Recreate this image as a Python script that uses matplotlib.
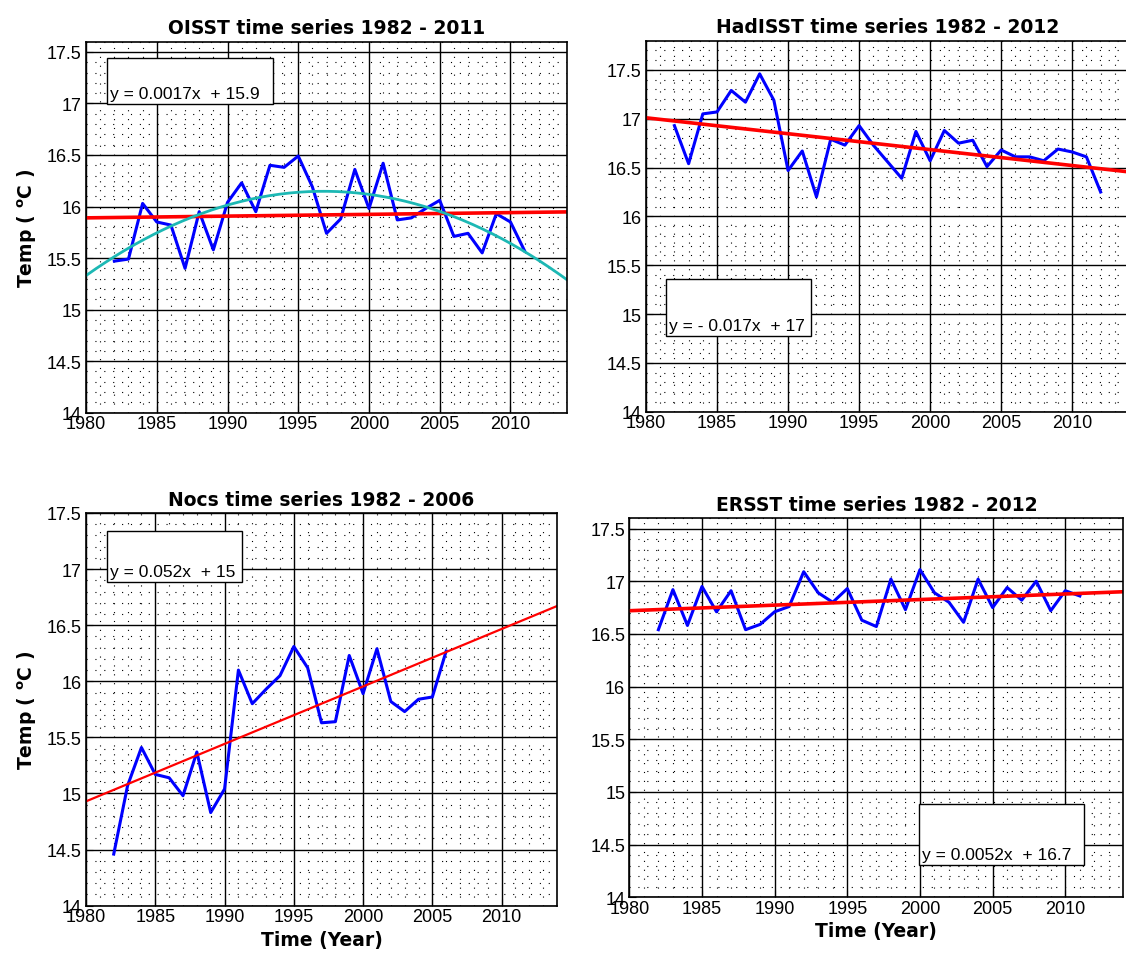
import numpy as np
import matplotlib
matplotlib.use("Agg")
import matplotlib.pyplot as plt
from matplotlib.patches import Rectangle
from matplotlib.ticker import MultipleLocator, FormatStrFormatter

plt.rcParams['font.family'] = ['Liberation Sans', 'DejaVu Sans']
plt.rcParams['mathtext.fontset'] = 'dejavusans'

# --- data ---
oisst_years = np.arange(1982, 2012)
oisst_temp = [15.47, 15.49, 16.03, 15.85, 15.82, 15.40, 15.95, 15.58, 16.04, 16.23,
              15.95, 16.40, 16.38, 16.49, 16.19, 15.74, 15.88, 16.36, 15.98, 16.42,
              15.87, 15.89, 15.98, 16.06, 15.71, 15.74, 15.55, 15.93, 15.85, 15.57]
oisst_lin = [0.0017, 15.89]            # slope, value at 1980
oisst_quad = [-0.0029, 0.0974, 15.33]  # in (year - 1980)

had_years = np.arange(1982, 2013)
had_temp = [16.93, 16.54, 17.05, 17.07, 17.29, 17.17, 17.46, 17.19, 16.47, 16.67,
            16.20, 16.79, 16.73, 16.93, 16.73, 16.56, 16.39, 16.87, 16.57, 16.88,
            16.75, 16.78, 16.51, 16.68, 16.61, 16.61, 16.57, 16.69, 16.66, 16.61,
            16.25]
had_lin = [-0.0163, 17.01]

nocs_years = np.arange(1982, 2007)
nocs_temp = [14.46, 15.07, 15.41, 15.17, 15.14, 14.98, 15.37, 14.83, 15.04, 16.10,
             15.80, 15.93, 16.05, 16.31, 16.12, 15.63, 15.64, 16.23, 15.89, 16.29,
             15.82, 15.73, 15.84, 15.86, 16.27]
nocs_lin = [0.0512, 14.93]

er_years = np.arange(1982, 2012)
er_temp = [16.54, 16.92, 16.58, 16.95, 16.71, 16.91, 16.54, 16.59, 16.71, 16.76,
           17.09, 16.89, 16.80, 16.93, 16.63, 16.57, 17.02, 16.73, 17.11, 16.89,
           16.80, 16.61, 17.02, 16.75, 16.94, 16.82, 17.00, 16.72, 16.91, 16.86]
er_lin = [0.0053, 16.72]

fig = plt.figure(figsize=(11.26, 9.62), dpi=100)

panels = [
    # title, years, temps, lin, quad, rect, ylim top, eq text, box (x0,y0,x1,y1), red lw, ylabel?, xlabel?
    ("OISST time series 1982 - 2011", oisst_years, oisst_temp, oisst_lin, oisst_quad,
     [0.0764, 0.5700, 0.4272, 0.3857], 17.6, "y = 0.0017x  + 15.9", (0.043, 0.832, 0.389, 0.955), 2.6, True, False),
    ("HadISST time series 1982 - 2012", had_years, had_temp, had_lin, None,
     [0.5737, 0.5710, 0.4290, 0.3857], 17.8, "y = - 0.017x  + 17", (0.041, 0.205, 0.341, 0.358), 2.6, False, False),
    ("Nocs time series 1982 - 2006", nocs_years, nocs_temp, nocs_lin, None,
     [0.0764, 0.0575, 0.4183, 0.4082], 17.5, "y = 0.052x  + 15", (0.045, 0.825, 0.332, 0.955), 1.6, True, True),
    ("ERSST time series 1982 - 2012", er_years, er_temp, er_lin, None,
     [0.5589, 0.0662, 0.4388, 0.3943], 17.6, "y = 0.0052x  + 16.7", (0.586, 0.085, 0.921, 0.246), 2.6, False, True),
]

xx = np.linspace(1980, 2014, 200)
for title, yrs, temp, lin, quad, rect, ytop, eq, box, rlw, ylab, xlab in panels:
    ax = fig.add_axes(rect)
    ax.set_xlim(1980, 2014)
    ax.set_ylim(14, ytop)
    ax.xaxis.set_major_locator(MultipleLocator(5))
    ax.xaxis.set_minor_locator(MultipleLocator(1))
    ax.yaxis.set_major_locator(MultipleLocator(0.5))
    ax.yaxis.set_minor_locator(MultipleLocator(0.1))
    ax.yaxis.set_major_formatter(FormatStrFormatter('%g'))
    ax.grid(which='major', color='k', linestyle='-', linewidth=1.0)
    ax.grid(which='minor', color='k', linestyle=(0, (1, 7)), linewidth=0.8)
    ax.set_axisbelow(True)
    ax.tick_params(which='major', direction='in', length=5, labelsize=13, pad=2, colors='k')
    ax.tick_params(axis='y', which='major', pad=3)
    ax.tick_params(which='minor', length=0)
    for s in ax.spines.values():
        s.set_linewidth(1.2)

    ax.plot(yrs, temp, color='#0000ff', linewidth=2.2)
    ax.plot(xx, lin[0] * (xx - 1980) + lin[1], color='#ff0000', linewidth=rlw)
    if quad is not None:
        t = xx - 1980
        ax.plot(xx, quad[0] * t ** 2 + quad[1] * t + quad[2], color='#1cb8b4', linewidth=2.0)

    x0, y0, x1, y1 = box
    ax.add_patch(Rectangle((x0, y0), x1 - x0, y1 - y0, transform=ax.transAxes,
                           facecolor='white', edgecolor='k', linewidth=1.0, zorder=5))
    ax.text(x0 + 0.006, y0 + 0.008, eq, transform=ax.transAxes, fontsize=12.5,
            ha='left', va='bottom', zorder=6)

    ax.set_title(title, fontsize=13.5, fontweight='bold', family='DejaVu Sans', pad=6)
    if ylab:
        ax.set_ylabel(r'Temp ( $\mathbf{^o}$C )', fontsize=13.5, fontweight='bold',
                      family='DejaVu Sans', labelpad=6)
    if xlab:
        ax.set_xlabel('Time (Year)', fontsize=13.5, fontweight='bold',
                      family='DejaVu Sans', labelpad=3)

fig.savefig('out.png', dpi=100)
